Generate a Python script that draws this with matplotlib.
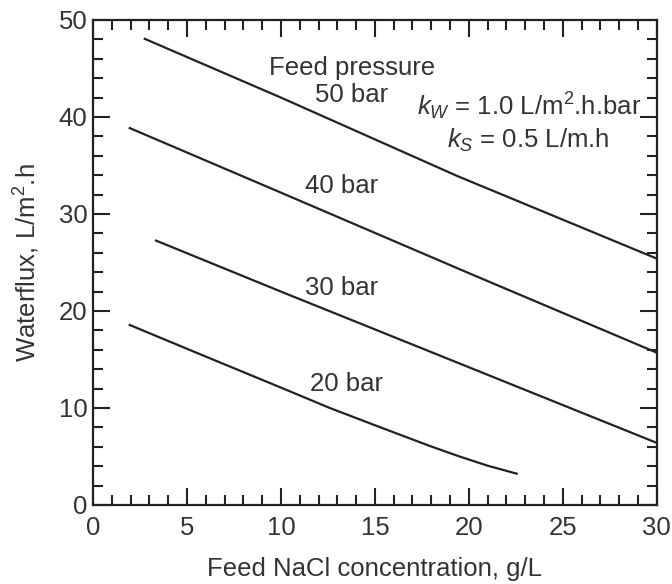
import matplotlib
matplotlib.use("Agg")
import matplotlib.pyplot as plt
from matplotlib.ticker import MultipleLocator

plt.rcParams['font.family'] = ['Liberation Sans', 'DejaVu Sans']
plt.rcParams['mathtext.fontset'] = 'custom'
plt.rcParams['mathtext.rm'] = 'Liberation Sans'
plt.rcParams['mathtext.it'] = 'Liberation Sans:italic'

ink = '#222222'
txt = '#333333'
fs = 18.5

# curves (feed NaCl g/L vs water flux L/m2.h)
conc_50 = [2.7, 10, 19.4, 30]
flux_50 = [48.1, 42.0, 33.9, 25.4]
conc_40 = [1.9, 10, 20, 30]
flux_40 = [38.9, 32.2, 23.9, 15.7]
conc_30 = [3.3, 10, 20, 30]
flux_30 = [27.3, 22.0, 14.2, 6.4]
conc_20 = [1.9, 6, 10, 12.6, 15.3, 17.9, 19.5, 21.0, 22.6]
flux_20 = [18.6, 15.3, 12.1, 10.0, 8.0, 6.1, 5.0, 4.05, 3.2]

labels = ['50 bar', '40 bar', '30 bar', '20 bar']
label_x = [13.75, 13.25, 13.25, 13.5]
label_y = [41.5, 32.15, 21.65, 11.7]

fig = plt.figure(figsize=(6.72, 5.84), dpi=100)
ax = fig.add_axes([0.1384, 0.1353, 0.839, 0.8305])

for xs, ys in [(conc_50, flux_50), (conc_40, flux_40), (conc_30, flux_30), (conc_20, flux_20)]:
    ax.plot(xs, ys, color=ink, lw=1.6, solid_capstyle='butt', solid_joinstyle='round')

for lab, lx, ly in zip(labels, label_x, label_y):
    ax.text(lx, ly, lab, ha='center', va='baseline', fontsize=fs, color=txt)

ax.text(13.8, 44.3, 'Feed pressure', ha='center', va='baseline', fontsize=fs, color=txt)
ax.text(23.2, 40.2, r'$k_W$ = 1.0 L/m$^{2}$.h.bar', ha='center', va='baseline', fontsize=fs, color=txt)
ax.text(23.15, 36.8, r'$k_S$ = 0.5 L/m.h', ha='center', va='baseline', fontsize=fs, color=txt)

ax.set_xlim(0, 30)
ax.set_ylim(0, 50)
ax.xaxis.set_major_locator(MultipleLocator(5))
ax.xaxis.set_minor_locator(MultipleLocator(1))
ax.yaxis.set_major_locator(MultipleLocator(10))
ax.yaxis.set_minor_locator(MultipleLocator(2))
ax.tick_params(which='both', direction='in', top=True, right=True, color=ink,
               labelsize=fs, labelcolor=txt, width=1.5)
ax.tick_params(axis='x', which='both', pad=8)
ax.tick_params(axis='y', which='both', pad=4)
ax.tick_params(which='major', length=12)
ax.tick_params(which='minor', length=7)
for s in ax.spines.values():
    s.set_linewidth(1.6)
    s.set_color(ink)

ax.set_xlabel('Feed NaCl concentration, g/L', fontsize=fs, color=txt, labelpad=12)
ax.set_ylabel('Waterflux, L/m$^{2}$.h', fontsize=fs, color=txt, labelpad=12)

fig.savefig('out.png', dpi=100)
